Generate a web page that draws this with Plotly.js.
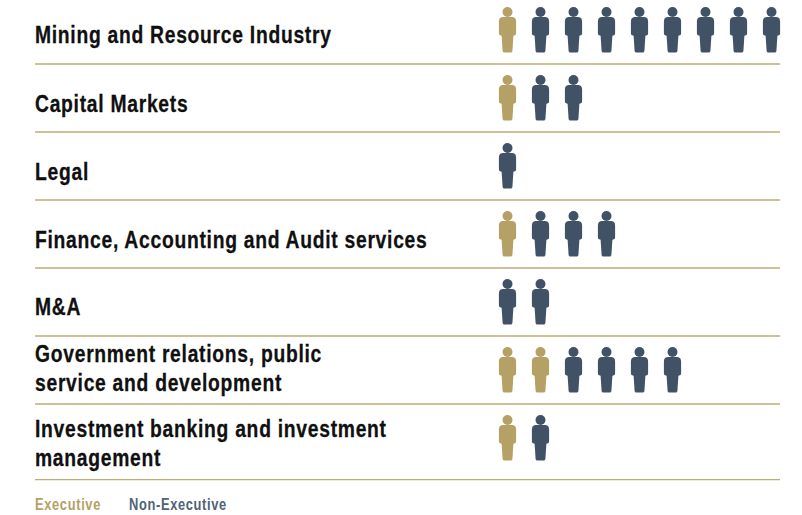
<!DOCTYPE html>
<html><head><meta charset="utf-8">
<script src="https://cdn.plot.ly/plotly-3.0.1.min.js"></script>
<style>html,body{margin:0;padding:0;background:#fff}
.annotation-text{letter-spacing:.85px;transform-box:fill-box;transform-origin:0 50%;transform:scaleX(.84);stroke:currentColor;stroke-width:.25px}
.annotation[data-index="7"] .annotation-text,.annotation[data-index="8"] .annotation-text{transform:scaleX(.78);stroke-width:0}</style></head>
<body><div id="c" style="width:802px;height:515px"></div>
<script>
const categories=["Mining and Resource Industry","Capital Markets","Legal","Finance, Accounting and Audit services","M&A","Government relations, public<br>service and development","Investment banking and investment<br>management"];
const executive=[1,1,0,1,0,2,1];
const nonExecutive=[8,2,1,3,2,4,1];
const labelShift=[-23,-24,-24,-24,-22,-17,-23.5];
const ruleRows=[0,1,2,3,4,5,6];
const ruleOffsets=[.765,.765,.765,.765,.765,.765,.877];
const GOLD="#b5a165",BLUE="#415267",RULE="#bfab74";
const W=802,H=515,X0=507.5,DX=33,Y0=12,DY=68;
const body="M-5,5 L5,5 Q8.6,5.4 8.6,9.5 L8.6,21.5 Q8.6,23.6 6.6,23.6 L5.9,23.8 L4.9,39 Q4.7,40.6 3.2,40.6 L-3.2,40.6 Q-4.7,40.6 -4.9,39 L-5.9,23.8 L-6.6,23.6 Q-8.6,23.6 -8.6,21.5 L-8.6,9.5 Q-8.6,5.4 -5,5 Z"
  .replace(/(-?[\d.]+),(-?[\d.]+)/g,(m,a,b)=>a+","+(-parseFloat(b)));
const ex={x:[],y:[]},ne={x:[],y:[]},shapes=[];
categories.forEach((c,r)=>{
  for(let i=0;i<executive[r]+nonExecutive[r];i++){
    const isE=i<executive[r],t=isE?ex:ne;
    t.x.push(i);t.y.push(r);
    shapes.push({type:"path",xref:"x",yref:"y",xsizemode:"pixel",ysizemode:"pixel",xanchor:i,yanchor:r,path:body,fillcolor:isE?GOLD:BLUE,line:{width:0}});
  }
});
ruleRows.forEach((r,k)=>shapes.push({type:"line",xref:"paper",yref:"y",x0:35/W,x1:780/W,y0:r+ruleOffsets[k],y1:r+ruleOffsets[k],line:{color:RULE,width:1.4}}));
const FF="Liberation Sans";
const annotations=categories.map((c,r)=>({xref:"paper",yref:"y",x:34/W,y:r,yshift:labelShift[r],xanchor:"left",yanchor:"middle",align:"left",showarrow:false,borderpad:0,text:"<b>"+c.replace("<br>","</b><br><b>")+"</b>",font:{family:FF,size:23,color:"#111"}}));
annotations.push({xref:"paper",yref:"paper",x:34/W,y:1-504/H,xanchor:"left",yanchor:"middle",showarrow:false,borderpad:0,text:"<b>Executive</b>",font:{family:FF,size:16.5,color:GOLD}});
annotations.push({xref:"paper",yref:"paper",x:127.5/W,y:1-504/H,xanchor:"left",yanchor:"middle",showarrow:false,borderpad:0,text:"<b>Non-Executive</b>",font:{family:FF,size:16.5,color:"#4f6379"}});
const mk=(t,n,col)=>({type:"scatter",mode:"markers",name:n,x:t.x,y:t.y,marker:{symbol:"circle",size:10,color:col,line:{width:0}},hoverinfo:"name",cliponaxis:false});
Plotly.newPlot("c",[mk(ex,"Executive",GOLD),mk(ne,"Non-Executive",BLUE)],{
  width:W,height:H,margin:{l:0,r:0,t:0,b:0},showlegend:false,paper_bgcolor:"#fff",plot_bgcolor:"#fff",
  xaxis:{visible:false,range:[-X0/DX,(W-X0)/DX],fixedrange:true},
  yaxis:{visible:false,range:[(H-Y0)/DY,-Y0/DY],fixedrange:true},
  shapes,annotations
},{displayModeBar:false,staticPlot:true});
</script></body></html>
